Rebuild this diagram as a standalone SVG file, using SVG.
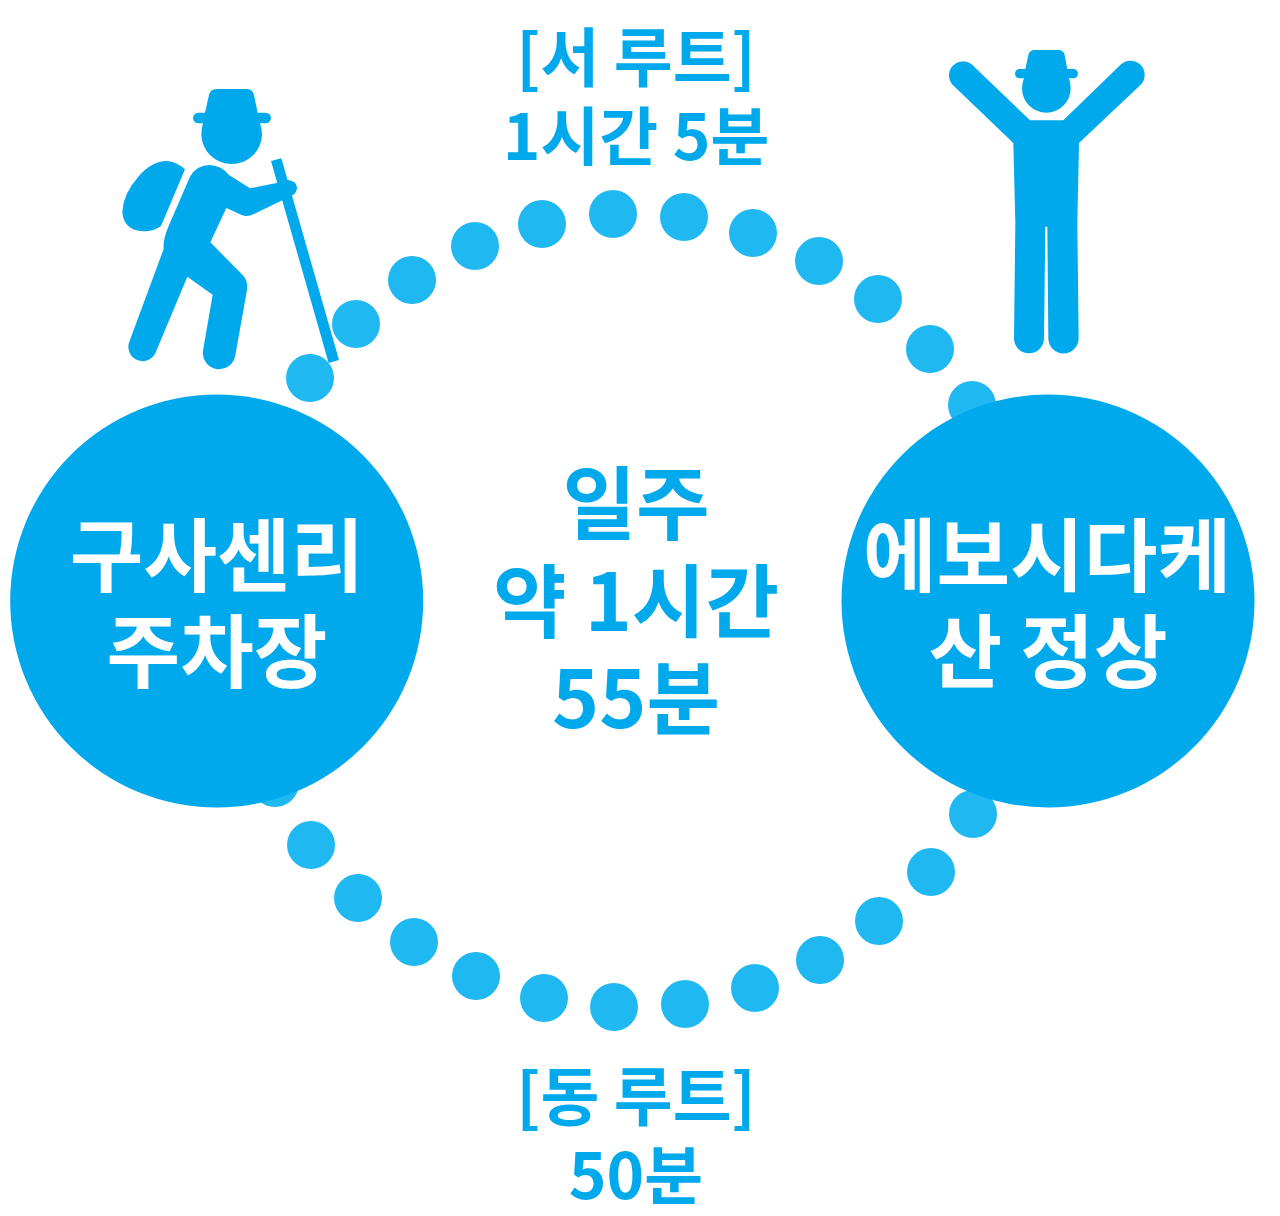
<svg xmlns="http://www.w3.org/2000/svg" width="1280" height="1216" viewBox="0 0 1280 1216">
<style>
.d{fill:#20b8f1}
.m{fill:#00a8ec}
text{font-family:"Noto Sans CJK KR","Noto Sans",sans-serif;font-weight:700;text-anchor:middle}
.w{fill:#fff;font-size:80px}
.c{fill:#00a8ec;font-size:80px}
.r{fill:#00a8ec;font-size:64px}
</style>
<rect width="1280" height="1216" fill="#fff"/>
<g id="connectors">
<g id="west-route" class="d"><circle cx="310" cy="378" r="24"/><circle cx="356" cy="324" r="24"/><circle cx="412" cy="280" r="24"/><circle cx="475" cy="246" r="24"/><circle cx="542" cy="224" r="24"/><circle cx="613" cy="214" r="24"/><circle cx="684" cy="217" r="24"/><circle cx="753" cy="233" r="24"/><circle cx="819" cy="261" r="24"/><circle cx="878" cy="299" r="24"/><circle cx="930" cy="349" r="24"/><circle cx="972" cy="405" r="24"/></g>
<g id="east-route" class="d"><circle cx="275" cy="783" r="24"/><circle cx="311" cy="845" r="24"/><circle cx="358" cy="898" r="24"/><circle cx="414" cy="942" r="24"/><circle cx="476" cy="976" r="24"/><circle cx="544" cy="998" r="24"/><circle cx="614" cy="1007" r="24"/><circle cx="685" cy="1004" r="24"/><circle cx="755" cy="988" r="24"/><circle cx="820" cy="960" r="24"/><circle cx="879" cy="921" r="24"/><circle cx="931" cy="872" r="24"/><circle cx="973" cy="814" r="24"/></g>
</g>
<g id="node-start"><circle class="m" cx="216.7" cy="601" r="206.5"/><text class="w" x="217" y="585">구사센리</text><text class="w" x="217" y="681">주차장</text></g>
<g id="node-summit"><circle class="m" cx="1048" cy="601" r="206.5"/><text class="w" x="1047" y="585">에보시다케</text><text class="w" x="1048" y="681">산 정상</text></g>
<g id="label-total"><text class="c" x="636" y="533">일주</text><text class="c" x="636" y="631">약 1시간</text><text class="c" x="636" y="728">55분</text></g>
<g id="label-west"><text class="r" x="636" y="81">[서 루트]</text><text class="r" x="636" y="160">1시간 5분</text></g>
<g id="label-east"><text class="r" x="636" y="1120">[동 루트]</text><text class="r" x="636" y="1199">50분</text></g>
<g id="hiker" class="m" transform="translate(110 80) scale(.33333)">
<path d="M285 98L297 45Q301 27 320 27H410Q428 27 432 45L443 98H467A16 16 0 0 1 467 130H450Q456 145 456 162A91 90 0 0 1 274 162Q274 145 279 130H265A16 16 0 0 1 265 98Z"/>
<path d="M225 268L153 438Q130 455 100 454Q40 450 37 395Q40 340 85 290Q125 243 170 243Q200 245 225 268Z"/>
<path d="M240 290Q260 255 300 255Q335 257 357 285L420 325L500 309L534 300Q561 303 561 325Q558 343 545 347L430 403Q412 412 395 405L349 384L301 487L395 582Q415 600 411 630L376 826A49 49 0 0 1 279 812L308 644L232 590L136 820A42.8 42.8 0 0 1 58 785L161 507Q158 480 175 440Z"/>
<path d="M483 243L514 235L687 840L656 849Z"/>
</g>
<g id="summit-person" class="m" transform="translate(930 40) scale(.33333)">
<path d="M286 87L295 45Q298 30 315 30H385Q400 30 404 45L412 87H430A14 14 0 0 1 430 115H417Q422 130 422 145A73 73 0 0 1 276 145Q276 130 282 115H269A14 14 0 0 1 269 87Z"/>
<path d="M124 72L300 241H400L574 72A42.5 42.5 0 0 1 632 134L447 309L442 550L446 895A45.5 45.5 0 0 1 355 895L352 560H346L342 895A45 45 0 0 1 252 895L256 550L250 309L66 133A42.5 42.5 0 0 1 124 72Z"/>
</g>
</svg>
